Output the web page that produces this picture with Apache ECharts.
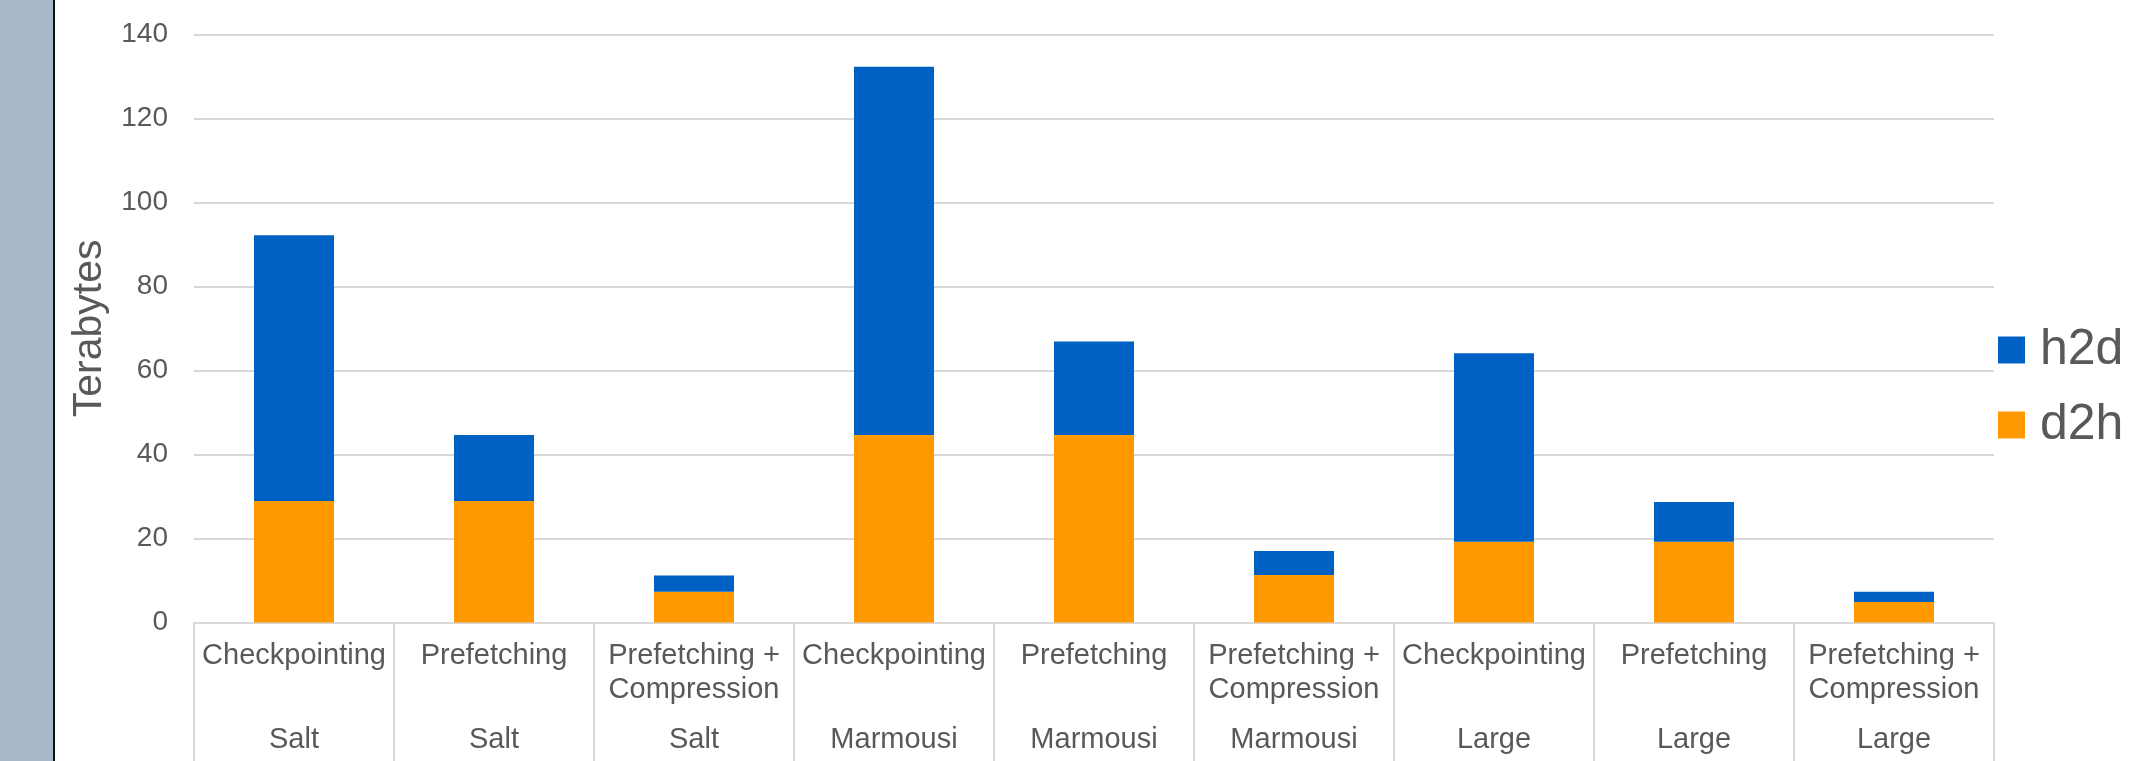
<!DOCTYPE html>
<html>
<head>
<meta charset="utf-8">
<title>Transfer volume by strategy</title>
<script src="https://cdn.jsdelivr.net/npm/echarts@6/dist/echarts.min.js"></script>
<style>
  html, body { margin: 0; padding: 0; background: #ffffff; }
  #chart { width: 2139px; height: 761px; }
</style>
</head>
<body>
<div id="chart"></div>
<script>
// Strategy per bar (first label row) and model (second label row)
const methods = [
  'Checkpointing', 'Prefetching', 'Prefetching +\nCompression',
  'Checkpointing', 'Prefetching', 'Prefetching +\nCompression',
  'Checkpointing', 'Prefetching', 'Prefetching +\nCompression'
];
const models = ['Salt', 'Salt', 'Salt', 'Marmousi', 'Marmousi', 'Marmousi', 'Large', 'Large', 'Large'];

// Terabytes moved device-to-host and host-to-device
const d2h = [28.9, 28.9, 7.3, 44.6, 44.6, 11.3, 19.2, 19.2, 4.9];
const h2d = [63.3, 15.7, 3.9, 87.7, 22.3, 5.7, 44.9, 9.5, 2.4];

const yTicks = { min: 0, max: 140, interval: 20 };

const FONT = "'Liberation Sans', Arial, sans-serif";
const TEXT = '#595959';
const RULE = '#d9d9d9';

const chart = echarts.init(document.getElementById('chart'), null, { renderer: 'canvas' });

chart.setOption({
  backgroundColor: '#ffffff',
  animation: false,
  textStyle: { fontFamily: FONT },
  graphic: [
    { type: 'rect', left: 0, top: 0, shape: { width: 53, height: 761 }, style: { fill: '#a9b9c9' }, silent: true },
    { type: 'rect', left: 53, top: 0, shape: { width: 2, height: 761 }, style: { fill: '#111111' }, silent: true }
  ],
  legend: {
    orient: 'vertical',
    left: 1998,
    top: 325,
    padding: 0,
    itemWidth: 27,
    itemHeight: 27,
    itemGap: 25,
    icon: 'rect',
    data: ['h2d', 'd2h'],
    textStyle: { fontSize: 50, lineHeight: 50, color: TEXT, fontFamily: FONT, padding: [0, 0, 0, 10] }
  },
  grid: { left: 194, right: 145, top: 34.3, bottom: 138.5, containLabel: false },
  xAxis: [
    {
      type: 'category',
      data: methods,
      axisLine: { show: true, lineStyle: { color: RULE, width: 2 } },
      axisTick: { show: true, interval: 0, length: 140, lineStyle: { color: RULE, width: 2 } },
      axisLabel: { interval: 0, margin: 16, fontSize: 29, lineHeight: 34.5, color: TEXT, fontFamily: FONT }
    },
    {
      type: 'category',
      data: models,
      position: 'bottom',
      axisLine: { show: false },
      axisTick: { show: false },
      axisLabel: { interval: 0, margin: 103, fontSize: 29, color: TEXT, fontFamily: FONT }
    }
  ],
  yAxis: {
    type: 'value',
    min: yTicks.min,
    max: yTicks.max,
    interval: yTicks.interval,
    name: 'Terabytes',
    nameLocation: 'middle',
    nameRotate: 90,
    nameGap: 83,
    nameTextStyle: { fontSize: 41, color: TEXT, fontFamily: FONT },
    axisLine: { show: false },
    axisTick: { show: false },
    axisLabel: { margin: 26, fontSize: 28, color: TEXT, fontFamily: FONT },
    splitLine: { show: true, lineStyle: { color: RULE, width: 2 } }
  },
  series: [
    {
      name: 'd2h',
      type: 'bar',
      stack: 'total',
      xAxisIndex: 0,
      barWidth: 80,
      itemStyle: { color: '#ff9900' },
      data: d2h
    },
    {
      name: 'h2d',
      type: 'bar',
      stack: 'total',
      xAxisIndex: 0,
      barWidth: 80,
      itemStyle: { color: '#0061c4' },
      data: h2d
    }
  ]
});
</script>
</body>
</html>
